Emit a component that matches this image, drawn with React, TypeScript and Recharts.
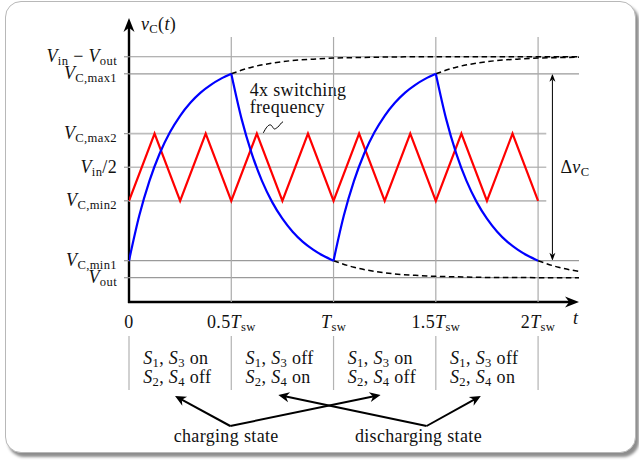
import React from 'react';
import {
  LineChart,
  Line,
  XAxis,
  YAxis,
  ReferenceLine,
  Customized,
} from 'recharts';

// ---- data (time in units of T_sw, voltage normalised: V_out = 0, V_in - V_out = 1)
const tTicks = [0, 0.5, 1, 1.5, 2];
const levelValues = [1, 0.923, 0.652, 0.5, 0.348, 0.077, 0];

// one charge / discharge interval of the single-capacitor case, 0.05 T_sw steps
const chargeV = [0.077, 0.28, 0.438, 0.562, 0.658, 0.733, 0.792, 0.838, 0.873, 0.901, 0.923];
const dischargeV = [0.923, 0.72, 0.562, 0.438, 0.342, 0.267, 0.208, 0.162, 0.127, 0.099, 0.077];
const chargeStarts = [0, 1];
const dischargeStarts = [0.5, 1.5];

// asymptotic continuation after each switching instant, 0.1 T_sw steps
const riseTail = [0.923, 0.953, 0.971, 0.983, 0.989, 0.994, 0.996, 0.998, 0.999, 1, 1, 1, 1, 1, 1, 1, 1, 1];
const fallTail = [0.077, 0.047, 0.029, 0.017, 0.011, 0.006, 0.004, 0.002, 0.001, 0.001, 0, 0, 0];
const riseStarts = [0.5, 1.5];
const fallStarts = [1, 2];

// 4x switching frequency ripple, 0.125 T_sw steps
const rippleV = [
  0.348, 0.652, 0.348, 0.652, 0.348, 0.652, 0.348, 0.652, 0.348,
  0.652, 0.348, 0.652, 0.348, 0.652, 0.348, 0.652, 0.348,
];

const s13State = ['on', 'off', 'on', 'off'];
const s24State = ['off', 'on', 'off', 'on'];

type Part = [string, 'i' | 'r' | 's'];

const levelLabels: Part[][] = [
  [['V', 'i'], ['in', 's'], [' \u2212 ', 'r'], ['V', 'i'], ['out', 's']],
  [['V', 'i'], ['C,max1', 's']],
  [['V', 'i'], ['C,max2', 's']],
  [['V', 'i'], ['in', 's'], ['/2', 'r']],
  [['V', 'i'], ['C,min2', 's']],
  [['V', 'i'], ['C,min1', 's']],
  [['V', 'i'], ['out', 's']],
];

const tLabels: Part[][] = [
  [['0', 'r']],
  [['0.5', 'r'], ['T', 'i'], ['sw', 's']],
  [['T', 'i'], ['sw', 's']],
  [['1.5', 'r'], ['T', 'i'], ['sw', 's']],
  [['2', 'r'], ['T', 'i'], ['sw', 's']],
];

// ---- layout
const FONT = '"Liberation Serif", "Times New Roman", serif';
const FS = 18;
const SPACING = 0.35;
const W = 639;
const H = 463;
const MARGIN = { top: 17, right: 60, bottom: 131, left: 8 };
const Y_AXIS_W = 121;
const X_AXIS_H = 30;
const T_DOMAIN: [number, number] = [0, 2.2];
const V_DOMAIN: [number, number] = [-0.11, 1.18];

const PLOT_LEFT = MARGIN.left + Y_AXIS_W;
const PLOT_TOP = MARGIN.top;
const PLOT_W = W - MARGIN.right - PLOT_LEFT;
const PLOT_H = H - MARGIN.bottom - X_AXIS_H - MARGIN.top;
const PLOT_BOTTOM = PLOT_TOP + PLOT_H;

const px = (t: number) =>
  PLOT_LEFT + ((t - T_DOMAIN[0]) / (T_DOMAIN[1] - T_DOMAIN[0])) * PLOT_W;
const py = (v: number) =>
  PLOT_TOP + ((V_DOMAIN[1] - v) / (V_DOMAIN[1] - V_DOMAIN[0])) * PLOT_H;

const seg = (vals: number[], t0: number, step: number) =>
  vals
    .map((v, i) => ({ t: +(t0 + i * step).toFixed(4), v }))
    .filter((p) => p.t <= T_DOMAIN[1] + 1e-9);

const rippleData = rippleV.map((v, i) => ({ t: i * 0.125, v }));

function MathText({
  x,
  y,
  parts,
  anchor = 'start',
  size = FS,
}: {
  x: number;
  y: number;
  parts: Part[];
  anchor?: 'start' | 'middle' | 'end';
  size?: number;
}) {
  const shift = size * 0.17;
  let low = false;
  return (
    <text
      x={x}
      y={y}
      textAnchor={anchor}
      fontFamily={FONT}
      fontSize={size}
      fill='#111'
      letterSpacing={SPACING}
      style={{ whiteSpace: 'pre' }}
    >
      {parts.map(([s, k], i) => {
        let dy = 0;
        if (k === 's' && !low) {
          dy = shift;
          low = true;
        } else if (k !== 's' && low) {
          dy = -shift;
          low = false;
        }
        return (
          <tspan
            key={i}
            dy={dy}
            fontStyle={k === 'i' ? 'italic' : 'normal'}
            fontSize={k === 's' ? size * 0.7 : size}
          >
            {s}
          </tspan>
        );
      })}
    </text>
  );
}

function Words({ x, y, children, anchor = 'start' }: any) {
  return (
    <text
      x={x}
      y={y}
      textAnchor={anchor}
      fontFamily={FONT}
      fontSize={FS}
      letterSpacing={SPACING}
      fill='#111'
    >
      {children}
    </text>
  );
}

function LevelTick(props: any) {
  const { x, y, payload } = props;
  const idx = levelValues.indexOf(payload.value);
  if (idx < 0) return null;
  return <MathText x={x - 5} y={y + 5.5} parts={levelLabels[idx]} anchor='end' />;
}

function TimeTick(props: any) {
  const { x, payload } = props;
  const idx = tTicks.indexOf(payload.value);
  if (idx < 0) return null;
  return <MathText x={x} y={PLOT_BOTTOM + 26} parts={tLabels[idx]} anchor='middle' />;
}

// filled stealth-style arrow head pointing from (x1,y1) to the tip (x2,y2)
function head(x1: number, y1: number, x2: number, y2: number, len: number, half: number) {
  const d = Math.hypot(x2 - x1, y2 - y1);
  const ux = (x2 - x1) / d;
  const uy = (y2 - y1) / d;
  const bx = x2 - ux * len;
  const by = y2 - uy * len;
  const nx = x2 - ux * len * 0.7;
  const ny = y2 - uy * len * 0.7;
  return `M${x2},${y2} L${bx - uy * half},${by + ux * half} L${nx},${ny} L${bx + uy * half},${by - ux * half} Z`;
}

function Arrow({ x1, y1, x2, y2, w = 2, len = 11, half = 5 }: any) {
  const d = Math.hypot(x2 - x1, y2 - y1);
  const ex = x2 - ((x2 - x1) / d) * len * 0.6;
  const ey = y2 - ((y2 - y1) / d) * len * 0.6;
  return (
    <g>
      <line x1={x1} y1={y1} x2={ex} y2={ey} stroke='#000' strokeWidth={w} />
      <path d={head(x1, y1, x2, y2, len, half)} fill='#000' />
    </g>
  );
}

function Overlay() {
  const cells = [0, 0.5, 1, 1.5, 2];
  const tableTop = PLOT_BOTTOM + 34;
  const tableBottom = PLOT_BOTTOM + 88;
  const stateY = PLOT_BOTTOM + 124;
  const chargeX = px(0.495);
  const dischargeX = px(1.455);
  const tipY = PLOT_BOTTOM + 94;
  const dvX = px(2.07);
  return (
    <g>
      {/* axes */}
      <Arrow x1={PLOT_LEFT} y1={PLOT_BOTTOM + 1} x2={PLOT_LEFT} y2={PLOT_TOP + 1} w={2.4} len={14} half={5.5} />
      <Arrow x1={PLOT_LEFT - 1} y1={PLOT_BOTTOM} x2={PLOT_LEFT + PLOT_W} y2={PLOT_BOTTOM} w={2.4} len={14} half={5.5} />
      <MathText x={PLOT_LEFT + 12} y={PLOT_TOP + 13} parts={[['v', 'i'], ['C', 's'], ['(', 'r'], ['t', 'i'], [')', 'r']]} />
      <MathText x={PLOT_LEFT + PLOT_W - 6} y={PLOT_BOTTOM + 22} parts={[['t', 'i']]} />

      {/* ripple annotation */}
      <Words x={px(0.59)} y={py(0.823)}>4x switching</Words>
      <Words x={px(0.59)} y={py(0.745)}>frequency</Words>
      <path
        d={`M${px(0.656)},${py(0.654)} C${px(0.675)},${py(0.69)} ${px(0.69)},${py(0.7)} ${px(0.7)},${py(0.685)} S${px(0.71)},${py(0.67)} ${px(0.725)},${py(0.68)} S${px(0.74)},${py(0.7)} ${px(0.753)},${py(0.706)}`}
        fill='none'
        stroke='#000'
        strokeWidth={1}
      />

      {/* peak-to-peak ripple of the single-capacitor case */}
      <line x1={dvX} y1={py(0.923) + 6} x2={dvX} y2={py(0.077) - 6} stroke='#000' strokeWidth={1} />
      <path d={head(dvX, py(0.5), dvX, py(0.923), 8, 3)} fill='#000' />
      <path d={head(dvX, py(0.5), dvX, py(0.077), 8, 3)} fill='#000' />
      <MathText x={dvX + 8} y={py(0.5) + 6} parts={[['\u0394', 'r'], ['v', 'i'], ['C', 's']]} />

      {/* switch states */}
      {cells.map((t) => (
        <line key={t} x1={px(t)} y1={tableTop} x2={px(t)} y2={tableBottom} stroke='#b3b3b3' strokeWidth={1.2} />
      ))}
      {s13State.map((s, i) => {
        const left = px(i * 0.5 + 0.25) - 37;
        return (
          <g key={i}>
            <MathText x={left} y={PLOT_BOTTOM + 62} parts={[['S', 'i'], ['1', 's'], [', ', 'r'], ['S', 'i'], ['3', 's'], [' ' + s, 'r']]} />
            <MathText x={left} y={PLOT_BOTTOM + 81} parts={[['S', 'i'], ['2', 's'], [', ', 'r'], ['S', 'i'], ['4', 's'], [' ' + s24State[i], 'r']]} />
          </g>
        );
      })}

      <Arrow x1={chargeX} y1={stateY} x2={px(0.225)} y2={tipY} />
      <Arrow x1={chargeX} y1={stateY} x2={px(1.23)} y2={tipY - 1} />
      <Arrow x1={dischargeX} y1={stateY} x2={px(0.73)} y2={tipY - 1} />
      <Arrow x1={dischargeX} y1={stateY} x2={px(1.72)} y2={tipY} />
      <Words x={px(0.475)} y={PLOT_BOTTOM + 140} anchor='middle'>charging state</Words>
      <Words x={px(1.415)} y={PLOT_BOTTOM + 140} anchor='middle'>discharging state</Words>
    </g>
  );
}

export default function App() {
  const fullLevels = [1, 0.923, 0.077, 0];
  const shortLevels = [0.652, 0.5, 0.348];
  return (
    <div style={{ position: 'absolute', left: 0, top: 0, width: W, height: H, background: '#fff' }}>
      <div
        style={{
          position: 'absolute',
          left: 5,
          top: 1,
          width: 631,
          height: 452,
          boxSizing: 'border-box',
          border: '1px solid #b8b8b8',
          borderRadius: 16,
          background: '#fff',
          boxShadow: '3px 4px 3px rgba(0,0,0,0.45)',
        }}
      />
      <div style={{ position: 'absolute', left: 0, top: 0 }}>
        <LineChart width={W} height={H} margin={MARGIN}>
          <XAxis
            type='number'
            dataKey='t'
            domain={T_DOMAIN}
            ticks={tTicks}
            interval={0}
            allowDataOverflow
            axisLine={false}
            tickLine={false}
            height={X_AXIS_H}
            tick={<TimeTick />}
          />
          <YAxis
            type='number'
            domain={V_DOMAIN}
            ticks={levelValues}
            interval={0}
            allowDataOverflow
            width={Y_AXIS_W}
            axisLine={false}
            tickLine={{ stroke: '#999', strokeWidth: 1.2 }}
            tickSize={5}
            tick={<LevelTick />}
          />

          {fullLevels.map((v) => (
            <ReferenceLine key={`f${v}`} y={v} stroke='#9a9a9a' strokeWidth={1.2} />
          ))}
          {shortLevels.map((v) => (
            <ReferenceLine
              key={`s${v}`}
              segment={[
                { x: 0, y: v },
                { x: 2.04, y: v },
              ]}
              stroke='#bdbdbd'
              strokeWidth={1.7}
            />
          ))}
          {tTicks.slice(1).map((t) => (
            <ReferenceLine
              key={`v${t}`}
              segment={[
                { x: t, y: V_DOMAIN[0] },
                { x: t, y: 1.09 },
              ]}
              stroke='#ababab'
              strokeWidth={1.2}
            />
          ))}

          {riseStarts.map((t0) => (
            <Line
              key={`r${t0}`}
              data={seg(riseTail, t0, 0.1)}
              dataKey='v'
              type='monotone'
              stroke='#000'
              strokeWidth={1.5}
              strokeDasharray='5.5 3.5'
              dot={false}
              activeDot={false}
              isAnimationActive={false}
            />
          ))}
          {fallStarts.map((t0) => (
            <Line
              key={`d${t0}`}
              data={seg(fallTail, t0, 0.1)}
              dataKey='v'
              type='monotone'
              stroke='#000'
              strokeWidth={1.5}
              strokeDasharray='5.5 3.5'
              dot={false}
              activeDot={false}
              isAnimationActive={false}
            />
          ))}

          <Line
            data={rippleData}
            dataKey='v'
            type='linear'
            stroke='#ff0000'
            strokeWidth={2.2}
            dot={false}
            activeDot={false}
            isAnimationActive={false}
          />

          {chargeStarts.map((t0) => (
            <Line
              key={`c${t0}`}
              data={seg(chargeV, t0, 0.05)}
              dataKey='v'
              type='monotone'
              stroke='#0000ff'
              strokeWidth={2.2}
              dot={false}
              activeDot={false}
              isAnimationActive={false}
            />
          ))}
          {dischargeStarts.map((t0) => (
            <Line
              key={`x${t0}`}
              data={seg(dischargeV, t0, 0.05)}
              dataKey='v'
              type='monotone'
              stroke='#0000ff'
              strokeWidth={2.2}
              dot={false}
              activeDot={false}
              isAnimationActive={false}
            />
          ))}

          <Customized component={Overlay} />
        </LineChart>
      </div>
    </div>
  );
}
